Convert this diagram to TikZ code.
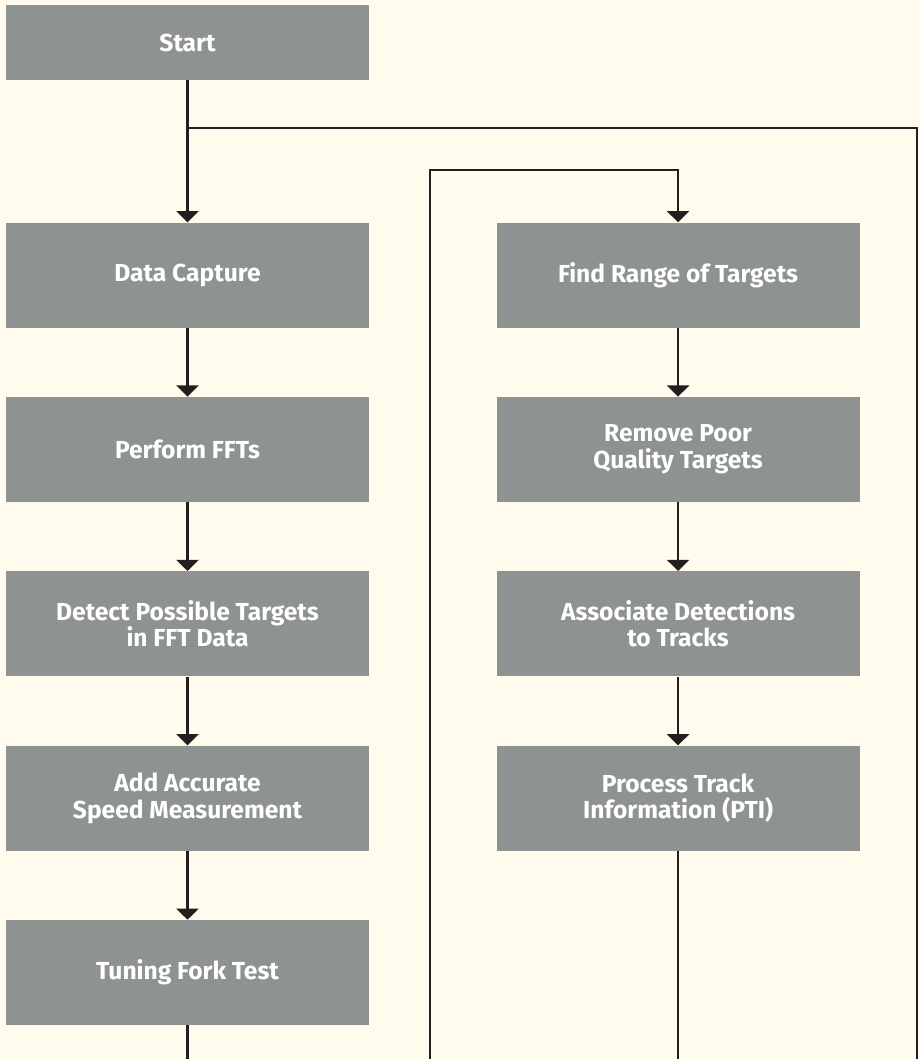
\documentclass[tikz,border=0pt]{standalone}
\usepackage{fontspec}
\setmainfont{Fira Sans}
\usetikzlibrary{positioning, arrows.meta}
\definecolor{pagebg}{RGB}{255,252,237}
\definecolor{boxgray}{RGB}{142,147,146}
\definecolor{linedark}{RGB}{35,31,32}

\begin{document}
\begin{tikzpicture}[
        node distance=1.72cm and 3.175cm,
        box/.style={rectangle, minimum width=9.075cm, minimum height=2.625cm, inner sep=0pt, align=center, fill=boxgray, text=white, font=\fontsize{17.5}{19}\selectfont\bfseries},
        startbox/.style={box, minimum height=1.875cm},
        arr/.style={-{Triangle[width=5.5mm, length=2.8mm]}, line width=1.8pt, draw=linedark},
        line/.style={line width=1.8pt, draw=linedark}
    ]
    \fill[pagebg] (0,0) rectangle (23,-26.475);
    \useasboundingbox (0,0) rectangle (23,-26.475);

    \node[startbox] (start) at (4.6875,-1.0625) {Start};
    \node[box] (capture) [below=3.55cm of start] {Data Capture};
    \node[box] (fft) [below=of capture] {Perform FFTs};
    \node[box] (detect) [below=of fft] {Detect Possible Targets\\in FFT Data};
    \node[box] (speed) [below=of detect] {Add Accurate\\Speed Measurement};
    \node[box] (fork) [below=of speed] {Tuning Fork Test};

    \node[box] (range) [right=of capture] {Find Range of Targets};
    \node[box] (remove) [below=of range] {Remove Poor\\Quality Targets};
    \node[box] (assoc) [below=of remove] {Associate Detections\\to Tracks};
    \node[box] (pti) [below=of assoc] {Process Track\\Information (PTI)};

    \coordinate (split) at (4.6875,-3.2);
    \coordinate (rtop) at (22.925,-3.2);
    \coordinate (rbot) at (22.925,-27);
    \coordinate (looptop) at (10.75,-4.25);
    \coordinate (loopbot) at (10.75,-27);

    \draw[arr] (start) -- (capture);
    \draw[arr] (capture) -- (fft);
    \draw[arr] (fft) -- (detect);
    \draw[arr] (detect) -- (speed);
    \draw[arr] (speed) -- (fork);
    \draw[line] (fork) -- (fork |- loopbot);

    \draw[line] (split) -- (rtop) -- (rbot);
    \draw[arr] (loopbot) -- (looptop) -| (range);
    \draw[arr] (range) -- (remove);
    \draw[arr] (remove) -- (assoc);
    \draw[arr] (assoc) -- (pti);
    \draw[line] (pti) -- (pti |- loopbot);

\end{tikzpicture}
\end{document}
